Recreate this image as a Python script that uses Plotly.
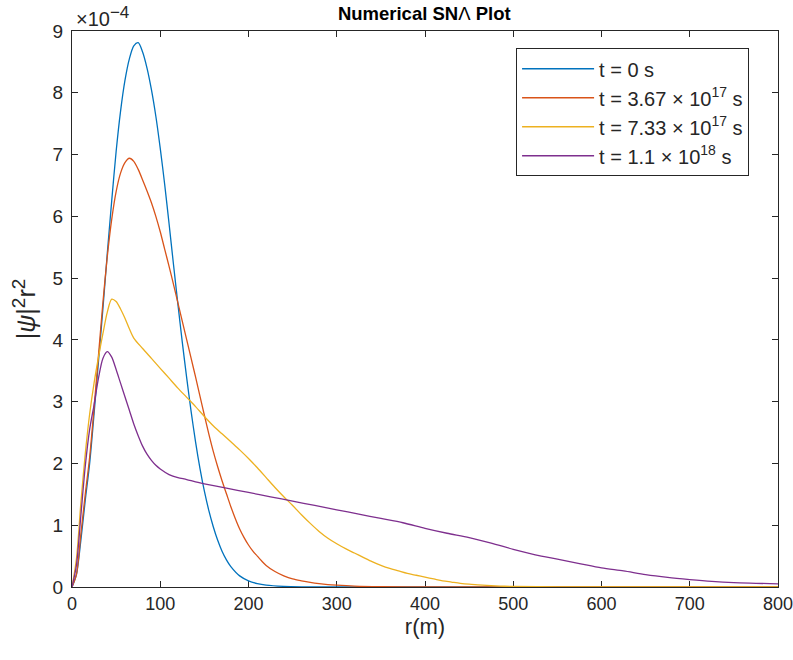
import plotly.graph_objects as go

# radial positions (m) and |psi|^2 r^2 in units of 1e-4, one list per time step
r_t0 = [0, 5, 10, 15, 20, 25, 30, 35, 40, 45, 50, 55, 60, 65, 70, 75, 80, 85, 90,
        95, 100, 105, 110, 115, 120, 125, 130, 135, 140, 145, 150, 155, 160, 165,
        170, 175, 180, 190, 200, 210, 220, 240, 260, 300, 400, 500, 600, 700, 800]
v_t0 = [0, 0.2, 0.75, 1.4, 2.0, 2.8, 3.65, 4.5, 5.4, 6.25, 7.05, 7.7, 8.2, 8.55,
        8.76, 8.81, 8.66, 8.4, 8.05, 7.62, 7.1, 6.52, 5.88, 5.22, 4.58, 3.96, 3.38,
        2.84, 2.35, 1.92, 1.55, 1.24, 0.98, 0.76, 0.58, 0.44, 0.33, 0.18, 0.1,
        0.055, 0.03, 0.01, 0.003, 0, 0, 0, 0, 0, 0]

r_t1 = [0, 5, 10, 15, 20, 25, 30, 35, 40, 45, 50, 55, 60, 65, 70, 75, 80, 85, 90,
        95, 100, 105, 110, 115, 120, 125, 130, 135, 140, 145, 150, 155, 160, 165,
        170, 175, 180, 185, 190, 195, 200, 205, 210, 215, 220, 230, 240, 250, 260,
        270, 280, 290, 300, 320, 350, 400, 500, 600, 700, 800]
v_t1 = [0, 0.2, 0.85, 1.5, 2.1, 2.9, 3.75, 4.6, 5.35, 5.95, 6.4, 6.7, 6.87, 6.94,
        6.89, 6.76, 6.59, 6.41, 6.22, 6.0, 5.75, 5.47, 5.19, 4.9, 4.6, 4.3, 4.0,
        3.7, 3.4, 3.09, 2.78, 2.48, 2.2, 1.95, 1.72, 1.51, 1.3, 1.11, 0.94, 0.8,
        0.68, 0.58, 0.5, 0.42, 0.35, 0.25, 0.18, 0.13, 0.1, 0.075, 0.055, 0.04,
        0.03, 0.015, 0.005, 0, 0, 0, 0, 0]

r_t2 = [0, 5, 10, 15, 20, 25, 30, 35, 40, 45, 50, 55, 60, 65, 70, 80, 90, 100, 110,
        120, 130, 140, 150, 160, 170, 180, 190, 200, 210, 220, 230, 240, 250, 260,
        270, 280, 290, 300, 310, 320, 330, 340, 350, 360, 370, 380, 390, 400, 410,
        420, 430, 440, 450, 460, 470, 480, 490, 500, 550, 600, 700, 800]
v_t2 = [0, 0.45, 1.35, 2.15, 2.8, 3.3, 3.72, 4.1, 4.45, 4.66, 4.62, 4.5, 4.35, 4.18,
        4.03, 3.86, 3.7, 3.54, 3.38, 3.22, 3.07, 2.92, 2.76, 2.61, 2.48, 2.35, 2.22,
        2.08, 1.93, 1.77, 1.61, 1.46, 1.32, 1.17, 1.03, 0.9, 0.79, 0.7, 0.62, 0.55,
        0.48, 0.41, 0.35, 0.3, 0.26, 0.22, 0.19, 0.16, 0.13, 0.1, 0.08, 0.06,
        0.045, 0.035, 0.025, 0.018, 0.012, 0.008, 0.003, 0, 0, 0]

r_t3 = [0, 5, 10, 15, 20, 25, 30, 35, 40, 45, 50, 55, 60, 65, 70, 75, 80, 85, 90,
        95, 100, 110, 120, 130, 140, 150, 175, 200, 225, 250, 275, 300, 325, 350,
        375, 400, 425, 450, 475, 500, 525, 550, 575, 600, 625, 650, 675, 700, 725,
        750, 775, 800]
v_t3 = [0, 0.35, 1.15, 1.95, 2.55, 2.95, 3.38, 3.7, 3.81, 3.72, 3.52, 3.3, 3.08,
        2.86, 2.64, 2.45, 2.28, 2.15, 2.05, 1.97, 1.91, 1.82, 1.77, 1.74, 1.7, 1.67,
        1.6, 1.53, 1.46, 1.39, 1.32, 1.25, 1.18, 1.11, 1.04, 0.95, 0.87, 0.8, 0.71,
        0.61, 0.52, 0.45, 0.38, 0.31, 0.26, 0.2, 0.155, 0.12, 0.09, 0.07, 0.06,
        0.05]

labels = ["t = 0 s",
          "t = 3.67 \u00d7 10<sup>17</sup> s",
          "t = 7.33 \u00d7 10<sup>17</sup> s",
          "t = 1.1 \u00d7 10<sup>18</sup> s"]
colors = ["#0072BD", "#D95319", "#EDB120", "#7E2F8E"]

x_ticks = [0, 100, 200, 300, 400, 500, 600, 700, 800]
y_ticks = [0, 1, 2, 3, 4, 5, 6, 7, 8, 9]

FONT = "Liberation Sans, Arial, Helvetica, sans-serif"
INK = "#262626"

fig = go.Figure()
for rr, vv, name, col in zip([r_t0, r_t1, r_t2, r_t3], [v_t0, v_t1, v_t2, v_t3],
                             labels, colors):
    fig.add_trace(go.Scatter(x=rr, y=vv, mode="lines", name=name,
                             line=dict(color=col, width=1.3, shape="spline",
                                       smoothing=0.8)))

axis_common = dict(showline=True, linecolor=INK, linewidth=1, mirror="ticks",
                   ticks="inside", ticklen=6, tickcolor=INK, tickwidth=1,
                   showgrid=False, zeroline=False, layer="below traces",
                   ticklabeloverflow="allow", automargin=False)

SUP = "<sup><span style='font-size:19px'>2</span></sup>"

fig.update_xaxes(range=[0, 800], tickvals=x_ticks, **axis_common,
                 tickfont=dict(family=FONT, size=18, color=INK),
                 title=dict(text="r(m)", font=dict(family=FONT, size=22, color=INK),
                            standoff=6))
fig.update_yaxes(range=[0, 9], tickvals=y_ticks, ticklabelstandoff=4,
                 **axis_common,
                 tickfont=dict(family=FONT, size=19, color=INK),
                 title=dict(text="|<i>\u03c8</i>|" + SUP + "r" + SUP,
                            font=dict(family=FONT, size=25, color=INK),
                            standoff=9))

fig.update_layout(
    width=793, height=660,
    margin=dict(l=72, r=15, t=31, b=73),
    paper_bgcolor="white", plot_bgcolor="white",
    title=dict(text="<b>Numerical SN</b>\u039b<b> Plot</b>",
               font=dict(family=FONT, size=18.5, color="black"),
               x=0.535, xanchor="center", y=0.979, yanchor="middle"),
    legend=dict(x=0.629, y=0.969, xanchor="left", yanchor="top",
                bgcolor="white", bordercolor=INK, borderwidth=1,
                font=dict(family=FONT, size=20, color=INK),
                itemwidth=72),
    annotations=[dict(text="\u00d710<sup><span style='font-size:17px'>\u22124</span></sup>",
                      xref="paper", yref="paper",
                      x=0.003, y=0.999, xanchor="left", yanchor="bottom",
                      showarrow=False,
                      font=dict(family=FONT, size=20, color=INK))],
    showlegend=True,
)

fig.write_html("out.html")
